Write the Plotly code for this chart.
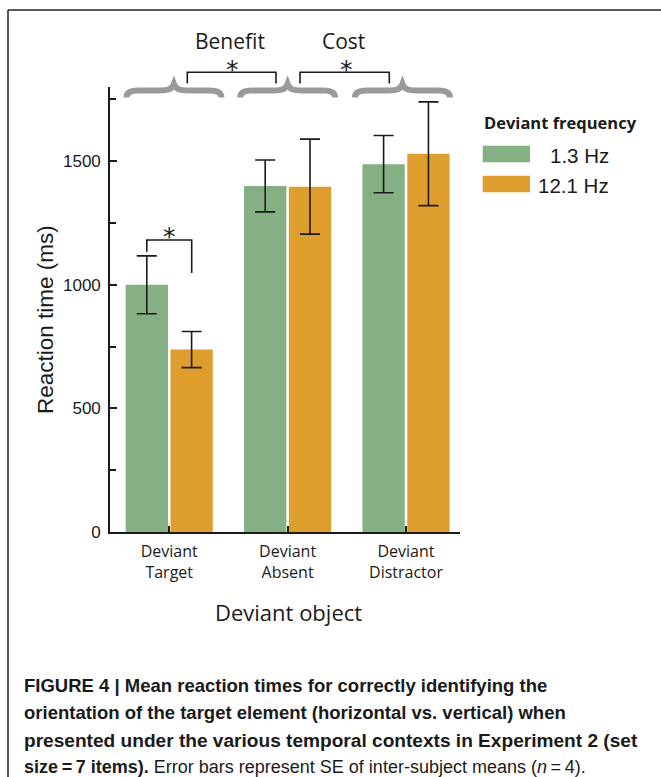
import plotly.graph_objects as go

# ---------------- data ----------------
categories = ["Deviant<br>Target", "Deviant<br>Absent", "Deviant<br>Distractor"]
cat_pos = [0, 1, 2]
series_names = ["1.3 Hz", "12.1 Hz"]
rt_1_3 = [1000, 1400, 1488]
se_1_3 = [117, 105, 116]
rt_12_1 = [738, 1397, 1530]
se_12_1 = [73, 192, 210]
y_ticks = [0, 500, 1000, 1500]

GREEN = "#84B083"
ORANGE = "#DE9E2E"
GRAY = "#9A9A9A"
INK = "#1A1A1A"

W, H = 661, 777
ML, MR, MT, MB = 110, 201, 87, 245
PW = W - ML - MR
PH = H - MT - MB
XMIN, XMAX = -0.5, 2.456
YMAX = 1800


def xp(px):
    return (px - ML) / PW


def yp(py):
    return (H - MB - py) / PH


def xd(px):
    return XMIN + (px - ML) / PW * (XMAX - XMIN)


PXU = PW / (XMAX - XMIN)  # pixels per x data unit

fig = go.Figure()
fig.add_trace(go.Bar(
    x=cat_pos, y=rt_1_3, name=series_names[0], marker_color=GREEN,
    marker_line_width=0,
    error_y=dict(type="data", array=se_1_3, color=INK, thickness=1.6, width=10),
))
fig.add_trace(go.Bar(
    x=cat_pos, y=rt_12_1, name=series_names[1], marker_color=ORANGE,
    marker_line_width=0,
    error_y=dict(type="data", array=se_12_1, color=INK, thickness=1.6, width=10),
))

shapes = []
annotations = []

STAR_FONT = dict(family="DejaVu Sans", size=25, color=INK)

# significance bracket inside plot (Deviant Target)
shapes.append(dict(type="path", xref="x", yref="y",
                   path="M -0.189,1134 L -0.189,1181 L 0.19,1181 L 0.19,1048",
                   line=dict(color=INK, width=1.6)))
annotations.append(dict(x=0.006, y=1197, xref="x", yref="y", text="*",
                        showarrow=False, font=STAR_FONT,
                        xanchor="center", yanchor="middle"))

# top brackets
for (a, b) in [(xd(187.3), xd(276)), (xd(300), xd(389.3))]:
    shapes.append(dict(type="path", xref="x", yref="paper",
                       path=f"M {a},{yp(83.5)} L {a},{yp(72.3)} L {b},{yp(72.3)} L {b},{yp(83.5)}",
                       line=dict(color=INK, width=1.6)))
for sx in [xd(232.7), xd(346.7)]:
    annotations.append(dict(x=sx, y=yp(69), xref="x", yref="paper", text="*",
                            showarrow=False, font=STAR_FONT,
                            xanchor="center", yanchor="middle"))
annotations.append(dict(x=xd(230), y=yp(41), xref="x", yref="paper", text="Benefit",
                        showarrow=False, font=dict(family="Open Sans", size=21, color=INK),
                        xanchor="center", yanchor="middle"))
annotations.append(dict(x=xd(343), y=yp(41), xref="x", yref="paper", text="Cost",
                        showarrow=False, font=dict(family="Open Sans", size=21, color=INK),
                        xanchor="center", yanchor="middle"))

# curly braces over each group
brace_centers = [0.04, 1.0, 1.97]
for c in brace_centers:
    def P(dx, py):
        return f"{c + dx / PXU},{yp(py)}"
    path = (f"M {P(-47.5, 97.5)} C {P(-47.5, 92)} {P(-43, 90.5)} {P(-36, 90.5)} "
            f"L {P(-14, 90.5)} C {P(-6, 90.5)} {P(-2, 89.5)} {P(0, 84)} "
            f"C {P(2, 89.5)} {P(6, 90.5)} {P(14, 90.5)} "
            f"L {P(36, 90.5)} C {P(43, 90.5)} {P(47.5, 92)} {P(47.5, 97.5)}")
    shapes.append(dict(type="path", xref="x", yref="paper", path=path,
                       line=dict(color=GRAY, width=6)))

# legend (manual)
annotations.append(dict(x=xp(560), y=yp(122.5), xref="paper", yref="paper",
                        text="<b>Deviant frequency</b>", showarrow=False,
                        font=dict(family="Open Sans", size=16.5, color=INK),
                        xanchor="center", yanchor="middle"))
for i, (col, lab, y0, y1, yc) in enumerate([(GREEN, series_names[0], 145.7, 162.3, 155.5),
                                            (ORANGE, series_names[1], 175.7, 192.3, 185.5)]):
    shapes.append(dict(type="rect", xref="paper", yref="paper",
                       x0=xp(482.7), x1=xp(530), y0=yp(y1), y1=yp(y0),
                       fillcolor=col, line=dict(width=0)))
    annotations.append(dict(x=xp(611), y=yp(yc), xref="paper", yref="paper", text=lab,
                            showarrow=False, font=dict(family="Liberation Sans", size=20.5, color=INK),
                            xanchor="right", yanchor="middle"))

# axis titles
annotations.append(dict(x=xp(45), y=yp(320), xref="paper", yref="paper",
                        text="Reaction time (ms)", textangle=-90, showarrow=False,
                        font=dict(family="Liberation Sans", size=22.5, color=INK),
                        xanchor="center", yanchor="middle"))
annotations.append(dict(x=xp(288), y=yp(612), xref="paper", yref="paper",
                        text="Deviant object", showarrow=False,
                        font=dict(family="Open Sans", size=22, color=INK),
                        xanchor="center", yanchor="middle"))

# caption
caption_lines = [
    "<b>FIGURE 4 | Mean reaction times for correctly identifying the</b>",
    "<b>orientation of the target element (horizontal vs. vertical) when</b>",
    "<b>presented under the various temporal contexts in Experiment 2 (set</b>",
    "<b>size\u2009=\u20097 items).</b> Error bars represent SE of inter-subject means (<i>n</i>\u2009=\u20094).",
]
caption_sizes = [18.5, 18.5, 19.1, 18.0]
for line, yc, fs in zip(caption_lines, [685, 712, 740, 767], caption_sizes):
    annotations.append(dict(x=xp(22), y=yp(yc), xref="paper", yref="paper", text=line,
                            showarrow=False,
                            font=dict(family="Liberation Sans", size=fs, color=INK),
                            xanchor="left", yanchor="middle"))

# frame lines
shapes.append(dict(type="line", xref="paper", yref="paper",
                   x0=xp(8), x1=xp(8), y0=yp(10), y1=yp(H + 5),
                   line=dict(color="#222222", width=1.5)))
shapes.append(dict(type="line", xref="paper", yref="paper",
                   x0=xp(8), x1=xp(W + 5), y0=yp(10), y1=yp(10),
                   line=dict(color="#222222", width=1.5)))

fig.update_layout(
    width=W, height=H,
    margin=dict(l=ML, r=MR, t=MT, b=MB, pad=0),
    paper_bgcolor="white", plot_bgcolor="white",
    barmode="group", bargap=0.243, bargroupgap=0.056,
    showlegend=False,
    shapes=shapes, annotations=annotations,
    xaxis=dict(range=[XMIN, XMAX], tickmode="array", tickvals=cat_pos, ticktext=categories,
               showline=True, linecolor=INK, linewidth=1.6, mirror=False,
               ticks="inside", ticklen=6, tickwidth=1.5, tickcolor=INK,
               showgrid=False, zeroline=False,
               tickfont=dict(family="Open Sans", size=16, color=INK),
               ticklabelstandoff=4),
    yaxis=dict(range=[0, YMAX], tickmode="array", tickvals=y_ticks,
               showline=True, linecolor=INK, linewidth=1.6,
               ticks="inside", ticklen=7, tickwidth=1.5, tickcolor=INK,
               minor=dict(dtick=250, ticks="inside", ticklen=6, tickwidth=1.5, tickcolor=INK),
               showgrid=False, zeroline=False,
               tickfont=dict(family="Liberation Sans", size=17, color=INK),
               ticklabelstandoff=4),
)

fig.write_html(
    "out.html",
    config={"displayModeBar": False},
    post_script="document.body.style.margin='0px';document.body.style.overflow='hidden';",
)
